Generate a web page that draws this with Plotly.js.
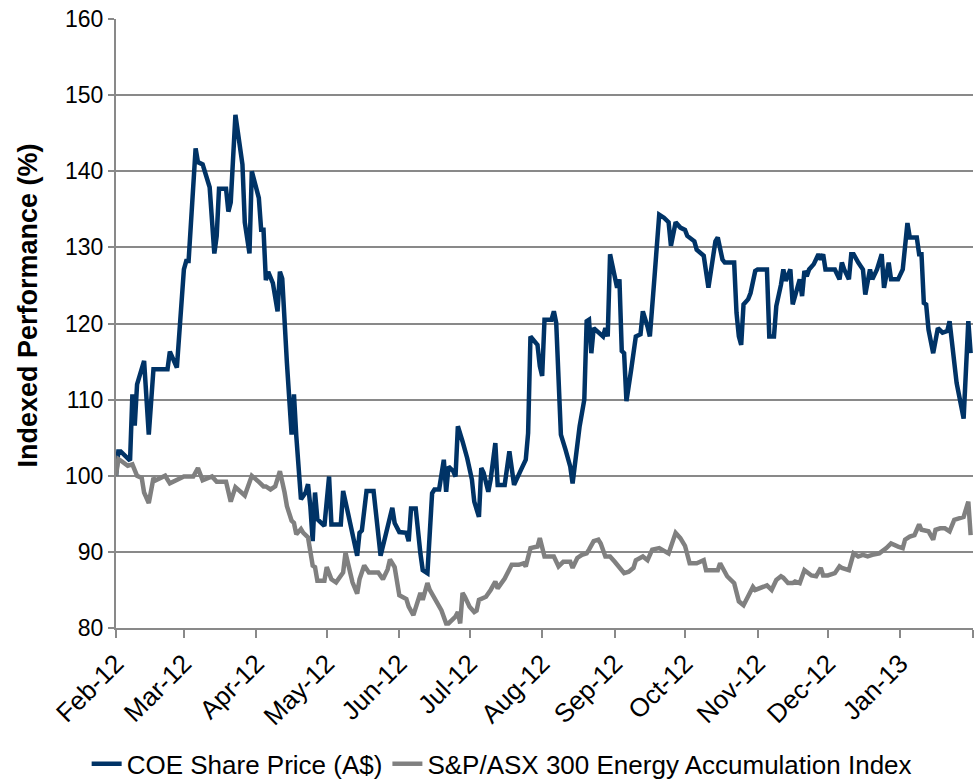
<!DOCTYPE html>
<html>
<head>
<meta charset="utf-8">
<script src="https://cdn.plot.ly/plotly-3.0.1.min.js"></script>
<style>
html,body{margin:0;padding:0;background:#fff;}
#chart{width:976px;height:783px;}
</style>
</head>
<body>
<div id="chart"></div>
<script>
var coeDates = ["2012-02-01","2012-02-02","2012-02-03","2012-02-06","2012-02-07","2012-02-08","2012-02-09","2012-02-10","2012-02-13","2012-02-15","2012-02-17","2012-02-23","2012-02-24","2012-02-27","2012-02-29",
"2012-03-01","2012-03-02","2012-03-03","2012-03-06","2012-03-07","2012-03-09","2012-03-12","2012-03-14","2012-03-15","2012-03-16","2012-03-19","2012-03-20","2012-03-21","2012-03-23","2012-03-26","2012-03-27","2012-03-29","2012-03-30",
"2012-04-02","2012-04-03","2012-04-04","2012-04-05","2012-04-06","2012-04-08","2012-04-10","2012-04-11","2012-04-12","2012-04-14","2012-04-15","2012-04-16","2012-04-17","2012-04-18","2012-04-20","2012-04-22","2012-04-23","2012-04-24","2012-04-25","2012-04-26","2012-04-27","2012-04-29","2012-04-30",
"2012-05-02","2012-05-03","2012-05-07","2012-05-08","2012-05-10","2012-05-14","2012-05-15","2012-05-16","2012-05-18","2012-05-21","2012-05-24","2012-05-27","2012-05-29","2012-05-30",
"2012-06-01","2012-06-04","2012-06-05","2012-06-06","2012-06-08","2012-06-10","2012-06-11","2012-06-13","2012-06-15","2012-06-16","2012-06-18","2012-06-20","2012-06-21","2012-06-22","2012-06-24","2012-06-25","2012-06-26","2012-06-28","2012-06-30",
"2012-07-02","2012-07-03","2012-07-05","2012-07-06","2012-07-07","2012-07-09","2012-07-10","2012-07-12","2012-07-13","2012-07-16","2012-07-18","2012-07-20","2012-07-23","2012-07-25","2012-07-26","2012-07-27","2012-07-30","2012-07-31",
"2012-08-01","2012-08-02","2012-08-05","2012-08-06","2012-08-07","2012-08-09","2012-08-11","2012-08-13","2012-08-14","2012-08-16","2012-08-17","2012-08-19","2012-08-20","2012-08-21","2012-08-22","2012-08-23","2012-08-25","2012-08-27","2012-08-28","2012-08-29","2012-08-30",
"2012-09-01","2012-09-02","2012-09-03","2012-09-04","2012-09-05","2012-09-06","2012-09-08","2012-09-10","2012-09-12","2012-09-13","2012-09-15","2012-09-16","2012-09-18","2012-09-20","2012-09-22","2012-09-24","2012-09-25","2012-09-27","2012-09-29",
"2012-10-01","2012-10-02","2012-10-04","2012-10-05","2012-10-06","2012-10-08","2012-10-09","2012-10-11","2012-10-12","2012-10-14","2012-10-15","2012-10-17","2012-10-18","2012-10-22","2012-10-23","2012-10-24","2012-10-25","2012-10-26","2012-10-28","2012-10-29","2012-10-31",
"2012-11-01","2012-11-05","2012-11-06","2012-11-08","2012-11-09","2012-11-11","2012-11-12","2012-11-13","2012-11-15","2012-11-16","2012-11-17","2012-11-19","2012-11-20","2012-11-21","2012-11-22","2012-11-23","2012-11-25","2012-11-27","2012-11-28","2012-11-29","2012-11-30",
"2012-12-04","2012-12-06","2012-12-07","2012-12-08","2012-12-10","2012-12-11","2012-12-12","2012-12-14","2012-12-16","2012-12-17","2012-12-19","2012-12-20","2012-12-22","2012-12-24","2012-12-25","2012-12-27","2012-12-28","2012-12-31",
"2013-01-02","2013-01-04","2013-01-05","2013-01-08","2013-01-09","2013-01-10","2013-01-11","2013-01-12","2013-01-13","2013-01-15","2013-01-16","2013-01-17","2013-01-19","2013-01-21","2013-01-22","2013-01-24","2013-01-25","2013-01-27","2013-01-28","2013-01-30","2013-01-31"];
var coeValues = [100,103.2,103.2,102.4,102,110.7,106.6,112,115.1,105.4,114,114,116.3,114.2,123.2,
127.1,128.2,128.2,143,141.2,140.9,137.9,129.2,131.5,137.7,137.7,134.7,135.9,147.4,140.9,133.3,129.2,140,
136.5,132.3,132.3,125.7,126.8,125.3,121.6,126.8,125.9,114.8,110,105.4,110.7,105.2,96.9,97.8,98.9,96,91.4,97.8,94.3,93.6,93.4,
99.9,93.6,93.6,98,95.2,89.5,92.5,92.8,98,98,89.5,93,95.8,93.8,
92.6,92.5,91.4,95.7,95.7,89.8,87.6,87.2,97.7,98.2,98.2,102.1,97.9,101.2,100.6,99.9,106.5,104.5,102.3,
99.5,96.6,94.6,101,100.4,97.9,99.5,104.3,98.8,98.8,103.2,98.8,100.8,102.1,105.6,118.3,117.2,114.4,
113.1,120.5,120.5,121.6,120.1,105.4,103.4,101.2,99,103.9,106.5,110,120.3,120.5,116.1,119.4,118.8,118.3,119.4,118.3,129.1,
126.2,124.7,125.8,116.4,116.1,109.8,113.9,118.3,118.6,121.6,119.6,118.3,126.2,134.3,133.9,133.3,130.2,133.3,132.6,
132.3,131.5,131.1,130.8,129.7,129.1,128.9,124.7,127.1,130.8,131.3,128.4,128,128,121.4,118.3,117.2,122.5,123.2,124,126.9,
127.1,127.1,118.3,118.3,122.3,125.1,127.1,125.6,127.1,122.5,123.8,125.8,123.6,126.9,126.2,127.1,127.8,129.1,128.4,129.1,127.1,
127.1,125.8,128,127.1,125.8,129.1,129.1,128,127.1,123.8,127.1,125.8,127.1,129.1,124.7,128,125.8,125.8,
127.1,133.2,131.3,131.3,129.1,129.1,122.7,122.5,119.2,116.1,117.9,119.4,118.8,119,120.3,115.3,112.2,109.1,107.5,120.3,116.1];

var idxDates = ["2012-02-01","2012-02-02","2012-02-03","2012-02-06","2012-02-08","2012-02-10","2012-02-12","2012-02-13","2012-02-15","2012-02-17","2012-02-18","2012-02-20","2012-02-22","2012-02-24","2012-02-27","2012-02-29",
"2012-03-01","2012-03-05","2012-03-07","2012-03-09","2012-03-13","2012-03-15","2012-03-19","2012-03-21","2012-03-23","2012-03-27","2012-03-30",
"2012-04-02","2012-04-03","2012-04-04","2012-04-05","2012-04-07","2012-04-09","2012-04-10","2012-04-11","2012-04-13","2012-04-14","2012-04-16","2012-04-17","2012-04-18","2012-04-20","2012-04-21","2012-04-23","2012-04-25","2012-04-26","2012-04-27","2012-04-30",
"2012-05-01","2012-05-03","2012-05-05","2012-05-08","2012-05-09","2012-05-10","2012-05-12","2012-05-14","2012-05-15","2012-05-17","2012-05-19","2012-05-23","2012-05-25","2012-05-27","2012-05-28","2012-05-30","2012-05-31",
"2012-06-01","2012-06-04","2012-06-05","2012-06-07","2012-06-08","2012-06-10","2012-06-11","2012-06-13","2012-06-14","2012-06-17","2012-06-19","2012-06-21","2012-06-22","2012-06-25","2012-06-26","2012-06-27","2012-06-28","2012-06-29",
"2012-07-01","2012-07-03","2012-07-04","2012-07-05","2012-07-08","2012-07-10","2012-07-12","2012-07-13","2012-07-16","2012-07-19","2012-07-22","2012-07-24","2012-07-25","2012-07-27","2012-07-30","2012-07-31",
"2012-08-01","2012-08-02","2012-08-06","2012-08-08","2012-08-10","2012-08-13","2012-08-14","2012-08-16","2012-08-18","2012-08-20","2012-08-21","2012-08-23","2012-08-25","2012-08-26","2012-08-28","2012-08-30",
"2012-09-01","2012-09-03","2012-09-05","2012-09-07","2012-09-09","2012-09-10","2012-09-13","2012-09-15","2012-09-17","2012-09-20","2012-09-24","2012-09-27","2012-09-29",
"2012-10-01","2012-10-02","2012-10-03","2012-10-06","2012-10-09","2012-10-10","2012-10-15","2012-10-16","2012-10-18","2012-10-19","2012-10-22","2012-10-23","2012-10-24","2012-10-26","2012-10-28","2012-10-30","2012-10-31",
"2012-11-02","2012-11-05","2012-11-07","2012-11-09","2012-11-11","2012-11-12","2012-11-14","2012-11-16","2012-11-17","2012-11-19","2012-11-21","2012-11-24","2012-11-26","2012-11-28","2012-11-29",
"2012-12-01","2012-12-04","2012-12-06","2012-12-07","2012-12-10","2012-12-12","2012-12-14","2012-12-16","2012-12-18","2012-12-20","2012-12-23","2012-12-26","2012-12-28","2012-12-31",
"2013-01-02","2013-01-03","2013-01-05","2013-01-07","2013-01-09","2013-01-10","2013-01-13","2013-01-15","2013-01-16","2013-01-18","2013-01-20","2013-01-22","2013-01-24","2013-01-26","2013-01-28","2013-01-30","2013-01-31"];
var idxValues = [100,102.2,102,101.3,101.5,100,99.7,97.8,96.4,99.7,99.4,99.7,100,99,99.4,99.7,
99.9,99.9,101,99.4,99.9,99.2,99.2,96.6,98.5,97.4,100,
99.2,98.9,98.6,98.6,98.2,98.6,99.5,100.6,97.8,96,94.1,93.8,92.3,93,92.5,91.9,88.2,88,86.2,86.2,
88,86.4,86,87.3,89.9,88.6,86,84.5,86.4,88.2,87.3,87.3,86.4,87.7,89,88,86,
84.3,83.8,82.8,81.7,82.8,84.6,83.7,85.9,85,83.2,82.3,80.6,80.6,81.5,82.1,80.6,84.6,84.1,
82.8,82.1,82.3,83.7,84.1,85,86.1,85.2,86.5,88.3,88.3,88.5,88.1,90.5,90.7,91.8,
90.3,89.4,89.4,88.1,88.7,88.7,87.9,89.2,89.6,89.8,90.3,91.4,91.6,91.1,89.4,89.4,
88.7,87.9,87.2,87.4,87.9,88.9,89.4,88.9,90.3,90.5,89.8,92.5,91.8,
90.8,89.8,88.5,88.5,88.9,87.6,87.6,88.5,87.4,86.8,85.9,84.6,83.5,83,84.3,85.4,85,
85.2,85.6,85,86.3,86.8,86.6,85.9,85.9,86.1,85.9,87.6,86.9,86.8,87.9,86.9,
86.9,87.2,88.1,87.9,87.6,89.8,89.4,89.6,89.4,89.6,89.8,90.5,91.1,90.7,
90.5,91.6,92,92.2,93.6,92.9,92.7,91.6,92.9,93.1,93.1,92.7,94.2,94.4,94.6,96.6,92.2];

var tickDates = ["2012-02-01","2012-03-01","2012-04-01","2012-05-01","2012-06-01","2012-07-01","2012-08-01","2012-09-01","2012-10-01","2012-11-01","2012-12-01","2013-01-01","2013-02-01"];
var tickLabels = ["Feb-12","Mar-12","Apr-12","May-12","Jun-12","Jul-12","Aug-12","Sep-12","Oct-12","Nov-12","Dec-12","Jan-13",""];
var seriesNames = ["COE Share Price (A$)","S&P/ASX 300 Energy Accumulation Index"];
var yTitle = "Indexed Performance (%)";

var font = "Liberation Sans, Arial, sans-serif";

var traces = [
  {x: coeDates, y: coeValues, type: "scatter", mode: "lines", name: seriesNames[0],
   line: {color: "#003366", width: 4.5}},
  {x: idxDates, y: idxValues, type: "scatter", mode: "lines", name: seriesNames[1],
   line: {color: "#808080", width: 4.5}}
];

var layout = {
  width: 976, height: 783,
  margin: {l: 116, r: 3, t: 19, b: 155, autoexpand: false},
  paper_bgcolor: "#ffffff", plot_bgcolor: "#ffffff",
  font: {family: font, size: 23, color: "#000000"},
  hovermode: false,
  showlegend: true,
  legend: {orientation: "h", x: 0.45, xanchor: "center", y: -0.223, yanchor: "middle",
           font: {family: font, size: 26, color: "#000000"}, bgcolor: "rgba(0,0,0,0)"},
  xaxis: {
    type: "date", automargin: false,
    range: ["2012-02-01", "2013-02-01"],
    tickmode: "array", tickvals: tickDates, ticktext: tickLabels,
    tickangle: -45,
    ticks: "outside", ticklen: 8, tickwidth: 2, tickcolor: "#898989",
    showgrid: false, zeroline: false,
    showline: true, linecolor: "#898989", linewidth: 2,
    tickfont: {family: font, size: 26, color: "#000000"}
  },
  yaxis: {
    automargin: false,
    range: [80, 160], dtick: 10, tick0: 80,
    ticks: "outside", ticklen: 6, tickwidth: 2, tickcolor: "#898989",
    showgrid: true, gridcolor: "#898989", gridwidth: 2,
    zeroline: false,
    showline: true, linecolor: "#898989", linewidth: 2,
    tickfont: {family: font, size: 23, color: "#000000"}
  },
  annotations: [{
    text: "<b>" + yTitle + "</b>", textangle: -90,
    xref: "paper", yref: "paper", x: -0.103, y: 0.529,
    xanchor: "center", yanchor: "middle", showarrow: false,
    font: {family: font, size: 27, color: "#000000"}
  }]
};

Plotly.newPlot("chart", traces, layout, {displayModeBar: false, staticPlot: true});
</script>
</body>
</html>
